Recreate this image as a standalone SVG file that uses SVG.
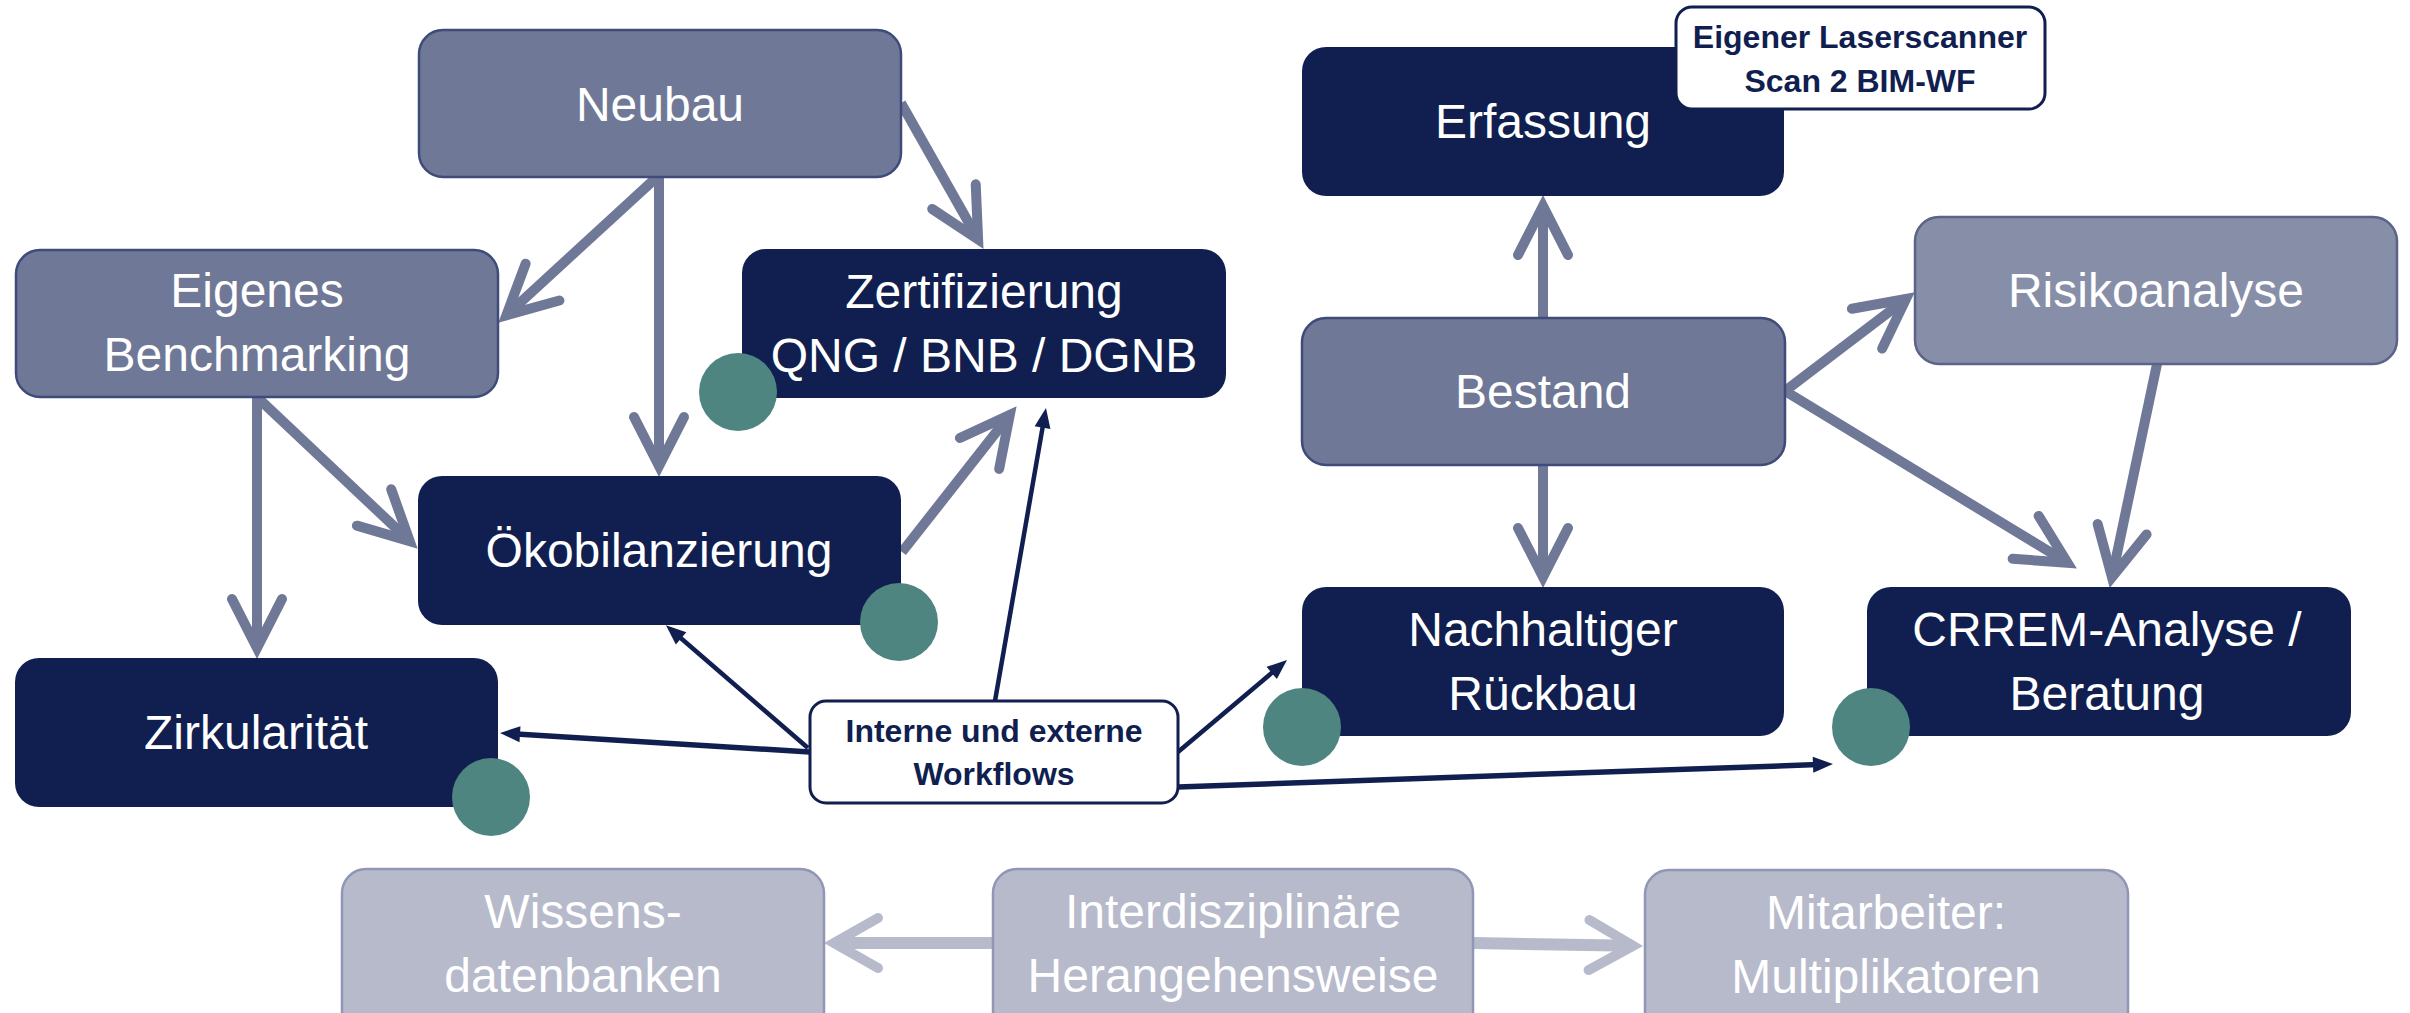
<svg xmlns="http://www.w3.org/2000/svg" width="2410" height="1013" viewBox="0 0 2410 1013">
<style>
  .mid { fill: #6f7896; stroke: #3f4b7a; stroke-width: 2.5; }
  .light { fill: #878ea8; stroke: #5b6488; stroke-width: 2.5; }
  .dark { fill: #101f50; }
  .pale { fill: #b7bacb; stroke: #9096b3; stroke-width: 2.5; }
  .note { fill: #ffffff; stroke: #101f50; stroke-width: 3; }
  .dot { fill: #4f8580; }
  .t { font-family: "Liberation Sans", Arial, sans-serif; font-size: 48px; fill: #ffffff; text-anchor: middle; }
  .tb { font-family: "Liberation Sans", Arial, sans-serif; font-size: 32px; font-weight: bold; fill: #101f50; text-anchor: middle; }
  .thick { fill: none; stroke: #6f7896; stroke-width: 10; marker-end: url(#ah); }
  .thin { fill: none; stroke: #101f50; stroke-width: 4.5; marker-end: url(#th); }
  .thin2 { fill: none; stroke: #101f50; stroke-width: 5.5; marker-end: url(#th); }
  .paleline { fill: none; stroke: #b7bacb; stroke-width: 12; marker-end: url(#ph); }
</style>
<defs>
  <marker id="ah" markerUnits="userSpaceOnUse" markerWidth="200" markerHeight="200" viewBox="-100 -100 200 200" refX="0" refY="0" orient="auto" overflow="visible">
    <path d="M-49,-25 L0,0 L-49,25" fill="none" stroke="#6f7896" stroke-width="10" stroke-linecap="round" stroke-linejoin="miter"/>
  </marker>
  <marker id="ph" markerUnits="userSpaceOnUse" markerWidth="200" markerHeight="200" viewBox="-100 -100 200 200" refX="0" refY="0" orient="auto" overflow="visible">
    <path d="M-44,-25 L0,0 L-44,25" fill="none" stroke="#b7bacb" stroke-width="10" stroke-linecap="round" stroke-linejoin="miter"/>
  </marker>
  <marker id="th" markerUnits="userSpaceOnUse" markerWidth="60" markerHeight="60" viewBox="-30 -30 60 60" refX="0" refY="0" orient="auto" overflow="visible">
    <path d="M-12,-8 L8,0 L-12,8 Z" fill="#101f50"/>
  </marker>
</defs>

<g id="connectors">
  <path class="thick" d="M657,177 L506.4,315.2"/>
  <path class="thick" d="M659,177 L659,466"/>
  <path class="thick" d="M901,103 L978.1,239.3"/>
  <path class="thick" d="M257,397 L257,648"/>
  <path class="thick" d="M258,398 L409.7,541.1"/>
  <path class="thick" d="M902,552 L1009.8,414.9"/>
  <path class="thick" d="M1543,318 L1543,206"/>
  <path class="thick" d="M1543,465 L1543,577"/>
  <path class="thick" d="M1785,391 L1906,299"/>
  <path class="thick" d="M1785,391 L2067.5,562.8"/>
  <path class="thick" d="M2157,364 L2112,577.2"/>
  <path class="thin" d="M808,748 L672,630.5"/>
  <path class="thin2" d="M810,752 L508,733.5"/>
  <path class="thin" d="M995,701 L1044.6,415.9"/>
  <path class="thin" d="M1178,752 L1280.9,665.2"/>
  <path class="thin2" d="M1178,787 L1825,764.3"/>
  <path class="paleline" d="M993,943 L834,943"/>
  <path class="paleline" d="M1473,943 L1633,945.8"/>
</g>

<g id="node-neubau">
  <rect class="mid" x="419" y="30" width="482" height="147" rx="24"/>
  <text class="t" x="660" y="121">Neubau</text>
</g>
<g id="node-benchmarking">
  <rect class="mid" x="16" y="250" width="482" height="147" rx="24"/>
  <text class="t" x="257" y="307">Eigenes</text>
  <text class="t" x="257" y="371">Benchmarking</text>
</g>
<g id="node-zertifizierung">
  <rect class="dark" x="742" y="249" width="484" height="149" rx="24"/>
  <text class="t" x="984" y="308">Zertifizierung</text>
  <text class="t" x="984" y="372">QNG / BNB / DGNB</text>
  <circle class="dot" cx="738" cy="392" r="39"/>
</g>
<g id="node-oekobilanzierung">
  <rect class="dark" x="418" y="476" width="483" height="149" rx="24"/>
  <text class="t" x="659" y="567">Ökobilanzierung</text>
  <circle class="dot" cx="899" cy="622" r="39"/>
</g>
<g id="node-zirkularitaet">
  <rect class="dark" x="15" y="658" width="483" height="149" rx="24"/>
  <text class="t" x="256" y="749">Zirkularität</text>
  <circle class="dot" cx="491" cy="797" r="39"/>
</g>
<g id="node-workflows">
  <rect class="note" x="810" y="701" width="368" height="102" rx="16"/>
  <text class="tb" x="994" y="742">Interne und externe</text>
  <text class="tb" x="994" y="785">Workflows</text>
</g>
<g id="node-erfassung">
  <rect class="dark" x="1302" y="47" width="482" height="149" rx="24"/>
  <text class="t" x="1543" y="138">Erfassung</text>
</g>
<g id="node-laserscanner">
  <rect class="note" x="1676" y="7" width="369" height="102" rx="16"/>
  <text class="tb" x="1860" y="48">Eigener Laserscanner</text>
  <text class="tb" x="1860" y="92">Scan 2 BIM-WF</text>
</g>
<g id="node-bestand">
  <rect class="mid" x="1302" y="318" width="483" height="147" rx="24"/>
  <text class="t" x="1543" y="408">Bestand</text>
</g>
<g id="node-risikoanalyse">
  <rect class="light" x="1915" y="217" width="482" height="147" rx="24"/>
  <text class="t" x="2156" y="307">Risikoanalyse</text>
</g>
<g id="node-rueckbau">
  <rect class="dark" x="1302" y="587" width="482" height="149" rx="24"/>
  <text class="t" x="1543" y="646">Nachhaltiger</text>
  <text class="t" x="1543" y="710">Rückbau</text>
  <circle class="dot" cx="1302" cy="727" r="39"/>
</g>
<g id="node-crrem">
  <rect class="dark" x="1867" y="587" width="484" height="149" rx="24"/>
  <text class="t" x="2107" y="646">CRREM-Analyse /</text>
  <text class="t" x="2107" y="710">Beratung</text>
  <circle class="dot" cx="1871" cy="727" r="39"/>
</g>
<g id="node-wissensdatenbanken">
  <rect class="pale" x="342" y="869" width="482" height="170" rx="24"/>
  <text class="t" x="583" y="928">Wissens-</text>
  <text class="t" x="583" y="992">datenbanken</text>
</g>
<g id="node-interdisziplinaer">
  <rect class="pale" x="993" y="869" width="480" height="170" rx="24"/>
  <text class="t" x="1233" y="928">Interdisziplinäre</text>
  <text class="t" x="1233" y="992">Herangehensweise</text>
</g>
<g id="node-mitarbeiter">
  <rect class="pale" x="1645" y="870" width="483" height="170" rx="24"/>
  <text class="t" x="1886" y="929">Mitarbeiter:</text>
  <text class="t" x="1886" y="993">Multiplikatoren</text>
</g>
</svg>
